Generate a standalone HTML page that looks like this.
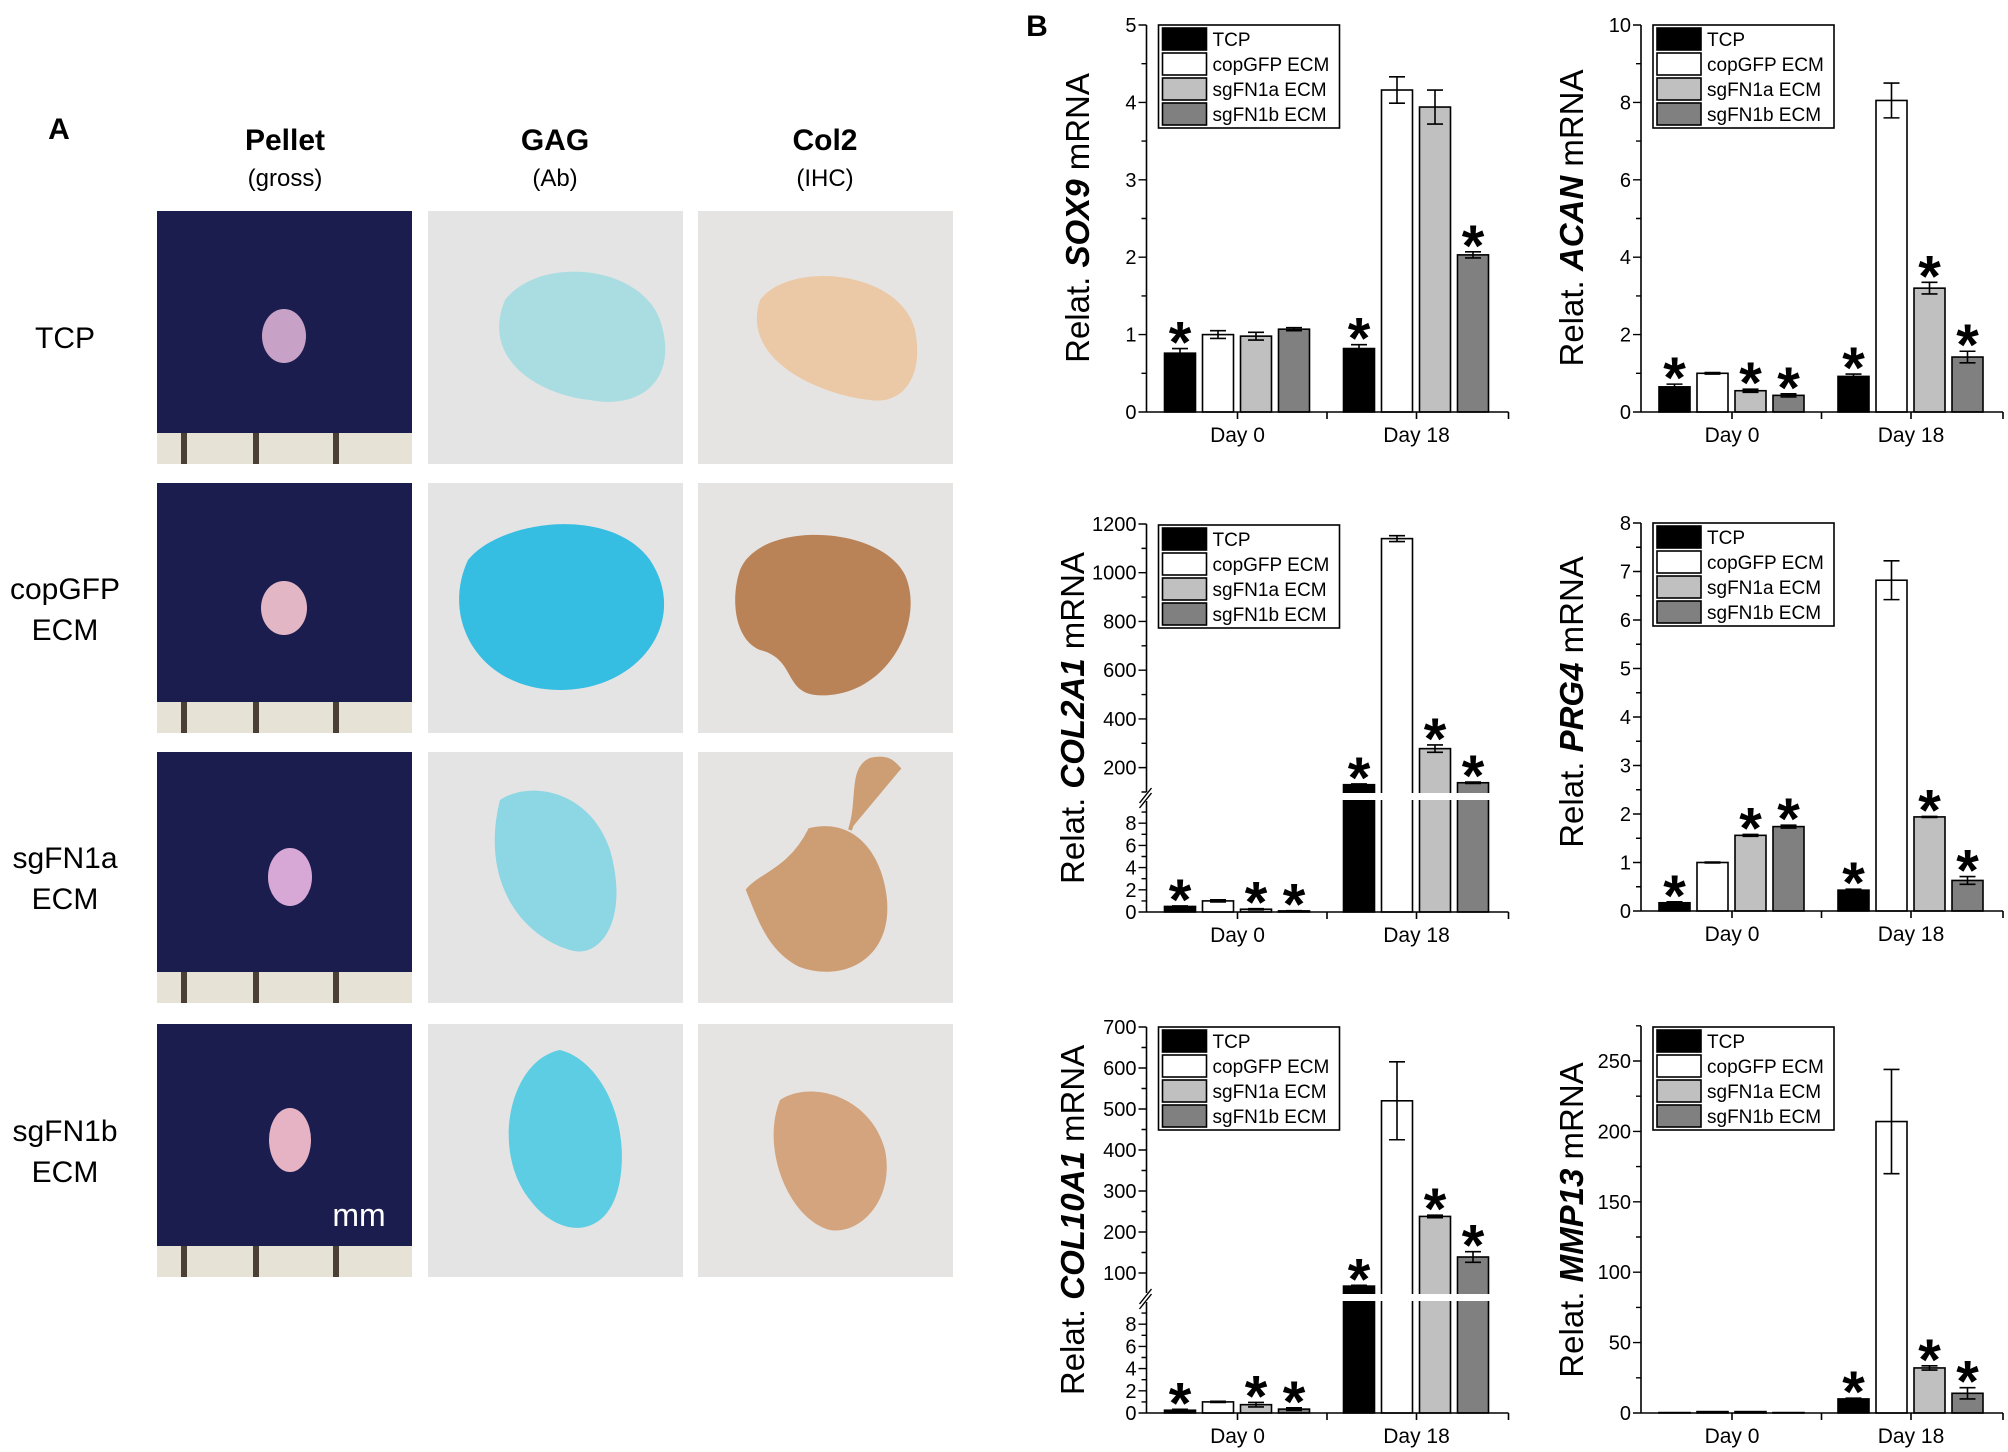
<!DOCTYPE html>
<html><head><meta charset="utf-8"><style>
html,body{margin:0;padding:0;background:#fff;}
svg{display:block;}
</style></head><body>
<svg id="fig" xmlns="http://www.w3.org/2000/svg" width="2008" height="1452" viewBox="0 0 2008 1452">
<rect x="0" y="0" width="2008" height="1452" fill="#fff"/>
<g id="panelA" font-family="'Liberation Sans',sans-serif">
  <text x="59" y="139" font-size="30" font-weight="bold" text-anchor="middle">A</text>
  <text x="285" y="150" font-size="30" font-weight="bold" text-anchor="middle">Pellet</text>
  <text x="285" y="186" font-size="24" text-anchor="middle">(gross)</text>
  <text x="555" y="150" font-size="30" font-weight="bold" text-anchor="middle">GAG</text>
  <text x="555" y="186" font-size="24" text-anchor="middle">(Ab)</text>
  <text x="825" y="150" font-size="30" font-weight="bold" text-anchor="middle">Col2</text>
  <text x="825" y="186" font-size="24" text-anchor="middle">(IHC)</text>
  <text x="65" y="348" font-size="30" text-anchor="middle">TCP</text>
  <text x="65" y="599" font-size="30" text-anchor="middle">copGFP</text>
  <text x="65" y="640" font-size="30" text-anchor="middle">ECM</text>
  <text x="65" y="868" font-size="30" text-anchor="middle">sgFN1a</text>
  <text x="65" y="909" font-size="30" text-anchor="middle">ECM</text>
  <text x="65" y="1141" font-size="30" text-anchor="middle">sgFN1b</text>
  <text x="65" y="1182" font-size="30" text-anchor="middle">ECM</text>
</g>
<g id="photos"></g>
<text x="1037" y="36" font-family="'Liberation Sans',sans-serif" font-size="30" font-weight="bold" text-anchor="middle">B</text>
<g id="charts"></g>
</svg>
<script>
// ---------- shared chart data ----------
const groups = ['Day 0', 'Day 18'];
const seriesNames = ['TCP', 'copGFP ECM', 'sgFN1a ECM', 'sgFN1b ECM'];

const sox9Values = [[0.76, 1.00, 0.98, 1.07], [0.82, 4.16, 3.94, 2.03]];
const sox9Errors = [[0.06, 0.05, 0.05, 0.02], [0.05, 0.17, 0.22, 0.04]];
const sox9Stars = [[1, 0, 0, 0], [1, 0, 0, 1]];
const sox9Ticks = [0, 1, 2, 3, 4, 5];

const acanValues = [[0.65, 1.00, 0.55, 0.43], [0.92, 8.05, 3.20, 1.42]];
const acanErrors = [[0.07, 0.02, 0.04, 0.04], [0.06, 0.45, 0.15, 0.15]];
const acanStars = [[1, 0, 1, 1], [1, 0, 1, 1]];
const acanTicks = [0, 2, 4, 6, 8, 10];

const col2a1Values = [[0.5, 1.0, 0.25, 0.1], [130, 1140, 278, 138]];
const col2a1Errors = [[0.05, 0.1, 0.05, 0.02], [3, 12, 15, 3]];
const col2a1Stars = [[1, 0, 1, 1], [1, 0, 1, 1]];
const col2a1LowTicks = [0, 2, 4, 6, 8];
const col2a1HighTicks = [200, 400, 600, 800, 1000, 1200];

const prg4Values = [[0.17, 1.00, 1.56, 1.74], [0.43, 6.82, 1.94, 0.63]];
const prg4Errors = [[0.02, 0.01, 0.02, 0.03], [0.02, 0.40, 0.01, 0.08]];
const prg4Stars = [[1, 0, 1, 1], [1, 0, 1, 1]];
const prg4Ticks = [0, 1, 2, 3, 4, 5, 6, 7, 8];

const col10a1Values = [[0.25, 1.0, 0.75, 0.35], [68, 520, 238, 139]];
const col10a1Errors = [[0.08, 0.05, 0.2, 0.12], [2, 95, 3, 13]];
const col10a1Stars = [[1, 0, 1, 1], [1, 0, 1, 1]];
const col10a1LowTicks = [0, 2, 4, 6, 8];
const col10a1HighTicks = [100, 200, 300, 400, 500, 600, 700];

const mmp13Values = [[0.3, 1.0, 1.0, 0.3], [10, 207, 32, 14]];
const mmp13Errors = [[0, 0, 0, 0], [0.5, 37, 1.5, 4]];
const mmp13Stars = [[0, 0, 0, 0], [1, 0, 1, 1]];
const mmp13Ticks = [0, 50, 100, 150, 200, 250];

const NS = 'http://www.w3.org/2000/svg';
const FILLS = ['#000000', '#ffffff', '#c0c0c0', '#808080'];
const NARROW = "'Liberation Sans Narrow','Liberation Sans',sans-serif";

function mk(parent, tag, attrs) {
  const e = document.createElementNS(NS, tag);
  for (const k in attrs) e.setAttribute(k, attrs[k]);
  parent.appendChild(e);
  return e;
}

function linScale(v0, p0, v1, p1) {
  return v => p0 + (v - v0) * (p1 - p0) / (v1 - v0);
}

function drawChart(cfg) {
  const root = document.getElementById('charts');
  const g = mk(root, 'g', {});
  
  
  const ax = cfg.axisX, y0 = cfg.zeroY, xEnd = ax + 362;
  const y = cfg.yScale;

  cfg.values.forEach((grp, gi) => {
    const c = ax + cfg.groupOffsets[gi];
    grp.forEach((v, si) => {
      const left = c - 73 + si * 38;
      const top = y(v);
      const bar = mk(g, 'rect', {x: left, y: top, width: 31, height: Math.max(0.01, y0 - top),
        fill: FILLS[si], stroke: '#000', 'stroke-width': 1.6});
      
      
      const err = cfg.errors[gi][si];
      let topY = top;
      if (err > 0) {
        const eh = y(v + err), el = y(Math.max(0, v - err));
        const cx = left + 15.5;
        const eb = mk(g, 'path', {d: `M${cx} ${eh}V${el}M${cx - 8} ${eh}H${cx + 8}M${cx - 8} ${el}H${cx + 8}`,
          stroke: '#000', 'stroke-width': 1.6, fill: 'none'});
        
        
        topY = Math.min(top, eh);
      }
      if (cfg.stars[gi][si]) {
        const st = mk(g, 'text', {x: left + 15.5, y: topY + 14, 'text-anchor': 'middle',
          'font-family': "'Liberation Sans',sans-serif", 'font-size': 58, 'font-weight': 'bold'});
        st.textContent = '*';
        
        
      }
    });
  });

  if (cfg.gap) {
    mk(g, 'rect', {x: ax - 1, y: cfg.gap[0], width: 362, height: cfg.gap[1] - cfg.gap[0], fill: '#fff'});
    const br = mk(g, 'path', {d: `M${ax - 7} ${cfg.gap[1] + 3}L${ax + 5} ${cfg.gap[0] - 5}M${ax - 7} ${cfg.gap[1] + 8}L${ax + 5} ${cfg.gap[0]}`,
      stroke: '#000', 'stroke-width': 1.4, fill: 'none'});
    
    
  }

  const yaxis = mk(g, 'path', {d: cfg.axisPath, stroke: '#000', 'stroke-width': 1.6, fill: 'none'});
  
  

  let tp = '';
  cfg.majorTicks.forEach(t => { const ty = y(t); tp += `M${ax - 8} ${ty}H${ax}`; });
  cfg.minorTicks.forEach(t => { const ty = y(t); tp += `M${ax - 5} ${ty}H${ax}`; });
  mk(g, 'path', {d: tp, stroke: '#000', 'stroke-width': 1.4, fill: 'none'});
  cfg.majorTicks.forEach(t => {
    const tl = mk(g, 'text', {x: ax - 10, y: y(t) + 7, 'text-anchor': 'end', 'font-family': NARROW, 'font-size': 20});
    tl.textContent = t;
    
    
  });

  const xa = mk(g, 'path', {d: `M${ax} ${y0}H${xEnd}M${ax + 91} ${y0}v7M${ax + 180.5} ${y0}v7M${ax + 270} ${y0}v7M${xEnd} ${y0}v7`,
    stroke: '#000', 'stroke-width': 1.6, fill: 'none'});
  
  
  groups.forEach((lab, gi) => {
    const t = mk(g, 'text', {x: ax + cfg.groupOffsets[gi], y: y0 + 30, 'text-anchor': 'middle', 'font-family': NARROW, 'font-size': 21});
    t.textContent = lab;
    
    
  });

  const tt = mk(g, 'text', {transform: `translate(${cfg.titleX + 10},${cfg.titleY}) rotate(-90)`, 'text-anchor': 'middle',
    'font-family': "'Liberation Sans',sans-serif", 'font-size': 33});
  
  
  const a = mk(tt, 'tspan', {}); a.textContent = 'Relat. ';
  const b = mk(tt, 'tspan', {'font-weight': 'bold', 'font-style': 'italic'}); b.textContent = cfg.gene;
  const c2 = mk(tt, 'tspan', {}); c2.textContent = ' mRNA';

  const lg = mk(g, 'g', {});
  
  
  const lx = ax + 12, ly = cfg.legendY;
  mk(lg, 'rect', {x: lx, y: ly, width: 181, height: 103, fill: '#fff', stroke: '#000', 'stroke-width': 1.6});
  seriesNames.forEach((s, i) => {
    const ry = ly + 3 + i * 25;
    const sw = mk(lg, 'rect', {x: lx + 4, y: ry, width: 44, height: 22, fill: FILLS[i], stroke: '#000', 'stroke-width': 1.6});
    
    
    const lt = mk(lg, 'text', {x: lx + 54, y: ry + 18, 'font-family': NARROW, 'font-size': 19});
    lt.textContent = s;
    
    
  });
}

function range(a, b, s) { const r = []; for (let v = a; v <= b + 1e-9; v += s) r.push(Math.round(v * 1000) / 1000); return r; }

const LX = 1146.5, RX = 1641, OFF = [91, 270];

drawChart({name: 'sox9', gene: 'SOX9', axisX: LX, zeroY: 412, yScale: linScale(0, 412, 5, 25),
  values: sox9Values, errors: sox9Errors, stars: sox9Stars, groupOffsets: OFF,
  majorTicks: sox9Ticks, minorTicks: range(0.5, 4.5, 1), axisPath: `M${LX} 412V25`,
  titleX: 1079, titleY: 218, legendY: 25});
drawChart({name: 'acan', gene: 'ACAN', axisX: RX, zeroY: 412, yScale: linScale(0, 412, 10, 25),
  values: acanValues, errors: acanErrors, stars: acanStars, groupOffsets: OFF,
  majorTicks: acanTicks, minorTicks: range(1, 9, 2), axisPath: `M${RX} 412V25`,
  titleX: 1573, titleY: 218, legendY: 25});
const col2Low = linScale(0, 912, 10, 801), col2High = linScale(100, 792, 1200, 524);
drawChart({name: 'col2a1', gene: 'COL2A1', axisX: LX, zeroY: 912, yScale: v => v <= 10 ? col2Low(v) : col2High(Math.max(v, 100)),
  values: col2a1Values, errors: col2a1Errors, stars: col2a1Stars, groupOffsets: OFF,
  majorTicks: col2a1LowTicks.concat(col2a1HighTicks), minorTicks: range(1, 9, 2).concat(range(100, 1100, 200)),
  axisPath: `M${LX} 912V801M${LX} 792V524`, gap: [793, 800],
  titleX: 1074, titleY: 718, legendY: 525});
drawChart({name: 'prg4', gene: 'PRG4', axisX: RX, zeroY: 911, yScale: linScale(0, 911, 8, 523),
  values: prg4Values, errors: prg4Errors, stars: prg4Stars, groupOffsets: OFF,
  majorTicks: prg4Ticks, minorTicks: range(0.5, 7.5, 1), axisPath: `M${RX} 911V523`,
  titleX: 1573, titleY: 702, legendY: 523});
const c10Low = linScale(0, 1413, 10, 1302), c10High = linScale(50, 1293.5, 700, 1027);
drawChart({name: 'col10a1', gene: 'COL10A1', axisX: LX, zeroY: 1413, yScale: v => v <= 10 ? c10Low(v) : c10High(Math.max(v, 50)),
  values: col10a1Values, errors: col10a1Errors, stars: col10a1Stars, groupOffsets: OFF,
  majorTicks: col10a1LowTicks.concat(col10a1HighTicks), minorTicks: range(1, 9, 2).concat(range(150, 650, 100)),
  axisPath: `M${LX} 1413V1302M${LX} 1293V1027`, gap: [1294, 1301],
  titleX: 1074, titleY: 1220, legendY: 1027});
drawChart({name: 'mmp13', gene: 'MMP13', axisX: RX, zeroY: 1413, yScale: linScale(0, 1413, 250, 1061),
  values: mmp13Values, errors: mmp13Errors, stars: mmp13Stars, groupOffsets: OFF,
  majorTicks: mmp13Ticks, minorTicks: range(25, 275, 50), axisPath: `M${RX} 1413V1026`,
  titleX: 1573, titleY: 1220, legendY: 1027});

(function () {
  const ph = document.getElementById('photos');
  const cols = [157, 428, 698], W = 255;
  const rows = [[211, 464], [483, 733], [752, 1003], [1024, 1277]];
  const pellets = [[284, 336, 22, 27, '#c7a2c6'], [284, 608, 23, 27, '#e3b6c6'], [290, 877, 22, 29, '#d7a8d6'], [290, 1140, 21, 32, '#e6b3c4']];
  const gag = [
    'M505 300 C540 255 640 265 660 320 C680 380 640 410 590 400 C540 395 480 360 505 300Z',
    'M468 560 C500 520 610 505 650 560 C690 620 640 690 560 690 C480 690 440 620 468 560Z',
    'M500 800 C530 780 590 790 610 850 C630 920 600 960 570 950 C520 935 480 880 500 800Z',
    'M560 1050 C600 1060 630 1120 620 1180 C610 1240 560 1240 530 1200 C490 1150 510 1060 560 1050Z'];
  const gagFill = ['#a9dde2', '#35bde2', '#8dd6e4', '#5ccde2'];
  const col2 = [
    'M760 300 C790 260 900 270 915 330 C925 380 900 405 870 400 C820 395 740 360 760 300Z',
    'M740 570 C760 520 880 525 905 575 C925 620 890 690 830 695 C780 700 800 660 760 650 C735 640 730 600 740 570Z',
    'M810 830 C850 820 880 850 885 900 C890 960 840 980 800 965 C770 950 760 920 748 890 C760 875 790 870 810 830Z M850 830 C860 800 850 770 870 760 C890 755 895 765 900 770',
    'M780 1100 C810 1080 870 1095 885 1150 C895 1200 860 1235 830 1230 C790 1220 760 1150 780 1100Z'];
  const col2Fill = ['#ebc9a6', '#b98257', '#cd9d74', '#d3a47d'];
  rows.forEach((r, ri) => {
    const h = r[1] - r[0];
    const g = mk(ph, 'g', {});
    
    
    mk(g, 'rect', {x: cols[0], y: r[0], width: W, height: h, fill: '#1b1d4f'});
    mk(g, 'rect', {x: cols[0], y: r[1] - 31, width: W, height: 31, fill: '#e6e3d6'});
    [24, 96, 176].forEach(dx => mk(g, 'rect', {x: cols[0] + dx, y: r[1] - 31, width: 6, height: 31, fill: '#4a4036'}));
    const p = pellets[ri];
    const pe = mk(g, 'ellipse', {cx: p[0], cy: p[1], rx: p[2], ry: p[3], fill: p[4]});
    
    
    mk(g, 'rect', {x: cols[1], y: r[0], width: W, height: h, fill: '#e4e4e4'});
    const gb = mk(g, 'path', {d: gag[ri], fill: gagFill[ri]});
    
    
    mk(g, 'rect', {x: cols[2], y: r[0], width: W, height: h, fill: '#e6e4e2'});
    const cb = mk(g, 'path', {d: col2[ri], fill: col2Fill[ri], stroke: col2Fill[ri], 'stroke-width': ri === 2 ? 4 : 0});
    
    
  });
  const mm = mk(ph, 'text', {x: 359, y: 1226, 'text-anchor': 'middle', fill: '#fff', 'font-family': "'Liberation Sans',sans-serif", 'font-size': 32});
  mm.textContent = 'mm';
  
  
})();
</script>
</body></html>
